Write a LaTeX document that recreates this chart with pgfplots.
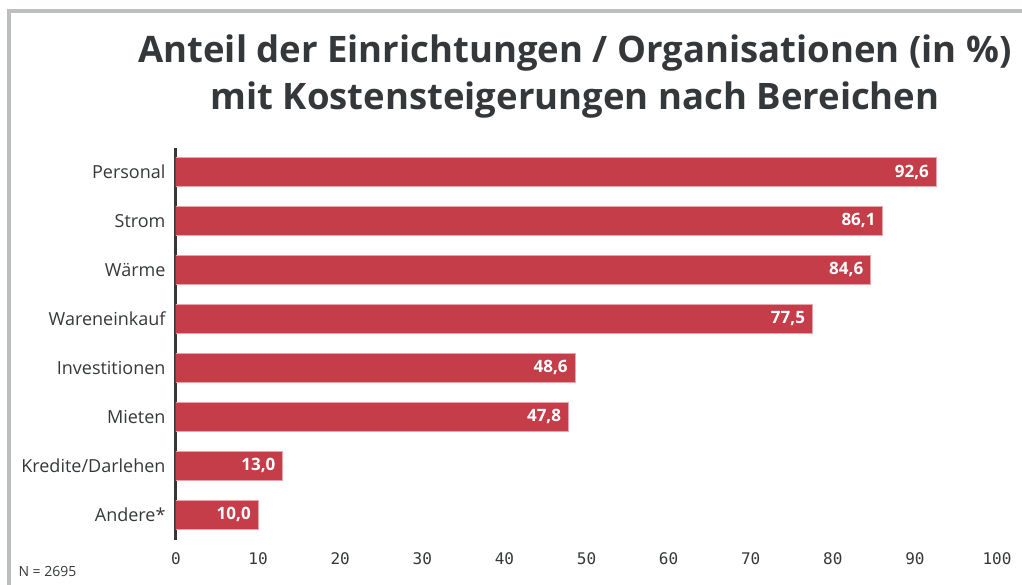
\documentclass[border=0pt]{standalone}
\usepackage{pgfplots}
\pgfplotsset{compat=1.18}
\usepackage{fontspec}
\setmainfont{Open Sans}
\newfontfamily\valfont{Open Sans}[Numbers=SlashedZero]
\newfontfamily\tickfont{DejaVu Sans Mono}

\definecolor{barred}{HTML}{C63D4A}
\definecolor{barline}{HTML}{E8A3AB}
\definecolor{txt}{HTML}{35383B}
\definecolor{framegray}{HTML}{BBBFBE}

\begin{document}
\begin{tikzpicture}[x=1pt,y=1pt]
    \useasboundingbox (0,0) rectangle (1022,585);
    % frame
    \draw[framegray, line width=3.5pt, line join=miter] (9,0) -- (9,574) -- (1022,574);

    % title
    \node[anchor=base, text=txt, font=\bfseries\fontsize{36.5}{40}\selectfont] at (575,522)
        {Anteil der Einrichtungen / Organisationen (in \%)};
    \node[anchor=base, text=txt, font=\bfseries\fontsize{36.5}{40}\selectfont] at (575,475)
        {mit Kostensteigerungen nach Bereichen};

    \node[anchor=base west, text=txt, font=\fontsize{14}{16}\selectfont] at (15,8) {N = 2695};

    \begin{axis}[
        at={(176pt,45pt)}, anchor=south west,
        scale only axis, width=821pt, height=392pt,
        xbar, bar width=29pt, bar shift=0pt,
        xmin=0, xmax=100, ymin=-0.52, ymax=7.49,
        axis y line*=left, axis x line*=bottom,
        x axis line style={draw=none},
        y axis line style={line width=3pt, draw=txt},
        major tick length=0pt,
        xtick={0,10,...,100},
        ytick={0,...,7},
        yticklabels={Andere*, Kredite/Darlehen, Mieten, Investitionen, Wareneinkauf, Wärme, Strom, Personal},
        /pgf/number format/assume math mode=true,
        xticklabel style={font=\tickfont\fontsize{16}{18}\selectfont, text=txt, yshift=-9pt},
        yticklabel style={font=\fontsize{18}{20}\selectfont, text=txt, xshift=-7pt},
        nodes near coords,
        nodes near coords style={anchor=east, xshift=-3.5pt, text=white,
            font=\valfont\bfseries\fontsize{17}{20}\selectfont,
            /pgf/number format/.cd, fixed, fixed zerofill, precision=1, use comma},
    ]
    \addplot[fill=barred, draw=barline, line width=1pt] coordinates {
        (10.0,0) (13.0,1) (47.8,2) (48.6,3) (77.5,4) (84.6,5) (86.1,6) (92.6,7)
    };
    \end{axis}
\end{tikzpicture}
\end{document}
